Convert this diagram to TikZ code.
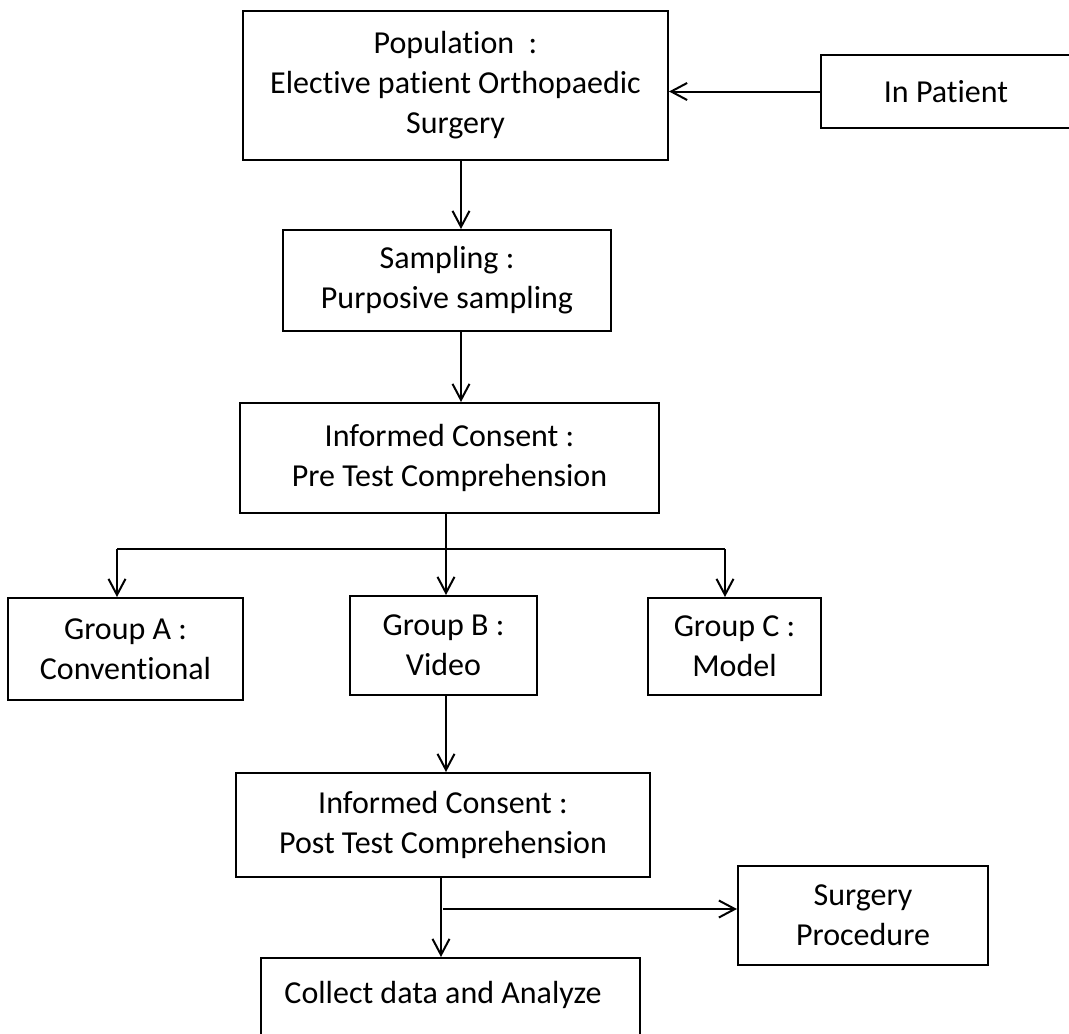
\documentclass[tikz,border=0pt]{standalone}
\usepackage{fontspec}
\setmainfont{Carlito}[Ligatures=NoCommon]
\usetikzlibrary{arrows.meta}
\begin{document}
\begin{tikzpicture}[x=1pt,y=-1pt,
  box/.style={draw, line width=2pt, align=center, inner sep=0pt, font=\fontsize{32}{40}\selectfont},
  txt/.style={font=\fontsize{32}{40}\selectfont, inner sep=0pt},
  arr/.style={line width=2pt, -{Straight Barb[length=16pt,width=17pt,line width=2pt]}},
  ln/.style={line width=2pt}]
\useasboundingbox (0,0) rectangle (1069,1034);
\clip (0,0) rectangle (1069,1034);
\node[box, minimum width=425pt, minimum height=149pt] (pop) at (455.5,85.5) {Population\ \ :\\Elective patient Orthopaedic\\Surgery};
\node[box, minimum width=250pt, minimum height=73pt] (inp) at (946,91.5) {In Patient};
\node[box, minimum width=328pt, minimum height=101pt] (samp) at (447,280.5) {Sampling :\\Purposive sampling};
\node[box, minimum width=419pt, minimum height=110pt] (ic1) at (449.5,458) {Informed Consent :\\Pre Test Comprehension};
\node[box, minimum width=235pt, minimum height=102pt] (ga) at (125.5,649) {Group A :\\Conventional};
\node[box, minimum width=187pt, minimum height=99pt] (gb) at (443.5,645.5) {Group B :\\Video};
\node[box, minimum width=173pt, minimum height=97pt] (gc) at (734.5,646.5) {Group C :\\Model};
\node[box, minimum width=414pt, minimum height=104pt] (ic2) at (443,825) {Informed Consent :\\Post Test Comprehension};
\node[box, minimum width=250pt, minimum height=99pt] (surg) at (863,915.5) {Surgery\\Procedure};
\node[box, minimum width=379pt, minimum height=95pt, anchor=north] (coll) at (450.5,957) {};
\node[txt] (colltxt) at (443,995) {Collect data and Analyze};
\coordinate (c461) at (461,0);
\coordinate (j1) at (446,549);
\coordinate (jl) at (117,549);
\coordinate (jr) at (725,549);
\coordinate (c441) at (441,0);
\coordinate (j2) at (443,909);
\draw[arr] (inp.west) -- (inp.west -| pop.east);
\draw[arr] (pop.south -| c461) -- (samp.north -| c461);
\draw[arr] (samp.south -| c461) -- (ic1.north -| c461);
\draw[ln] (ic1.south -| j1) -- (j1);
\draw[ln] (jl) -- (jr);
\draw[arr] (jl) -- (ga.north -| jl);
\draw[arr] (j1) -- (gb.north -| j1);
\draw[arr] (jr) -- (gc.north -| jr);
\draw[arr] (gb.south -| j1) -- (ic2.north -| j1);
\draw[arr] (ic2.south -| c441) -- (coll.north -| c441);
\draw[arr] (j2) -- (surg.west |- j2);
\end{tikzpicture}
\end{document}
